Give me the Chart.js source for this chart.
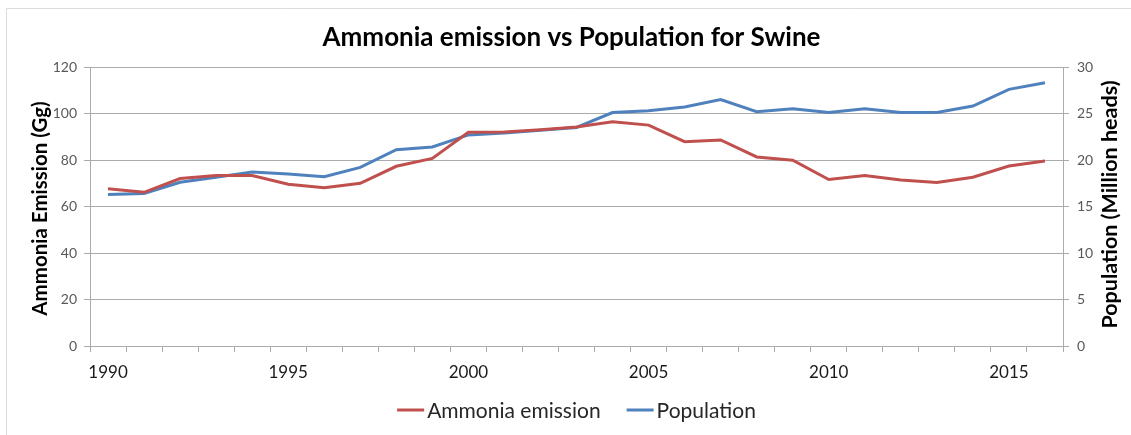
<!DOCTYPE html>
<html>
<head>
<meta charset="utf-8">
<script src="https://cdn.jsdelivr.net/npm/chart.js@4.4.1/dist/chart.umd.min.js"></script>
<style>
  html, body { margin: 0; padding: 0; background: #ffffff; overflow: hidden; }
  #wrap { position: relative; width: 1131px; height: 435px; }
</style>
</head>
<body>
<div id="wrap"><canvas id="chart" width="1131" height="435"></canvas></div>
<script>
// Swine: ammonia emission (Gg) and herd size (million heads), 1990-2016
const years = [1990, 1991, 1992, 1993, 1994, 1995, 1996, 1997, 1998, 1999,
               2000, 2001, 2002, 2003, 2004, 2005, 2006, 2007, 2008, 2009,
               2010, 2011, 2012, 2013, 2014, 2015, 2016];
const ammoniaEmission = [67.6, 66.1, 72.0, 73.3, 73.3, 69.6, 68.1, 70.0, 77.3, 80.7,
                         91.9, 92.0, 93.0, 94.2, 96.4, 95.0, 87.9, 88.6, 81.3, 79.9,
                         71.6, 73.3, 71.4, 70.3, 72.6, 77.4, 79.6];
const population = [16.3, 16.4, 17.6, 18.15, 18.7, 18.5, 18.2, 19.2, 21.1, 21.4,
                    22.7, 22.9, 23.2, 23.5, 25.1, 25.3, 25.7, 26.5, 25.2, 25.5,
                    25.1, 25.5, 25.1, 25.1, 25.8, 27.6, 28.3];
const seriesNames = ['Ammonia emission', 'Population'];
const chartTitle = 'Ammonia emission vs Population for Swine';
const leftAxisTitle = 'Ammonia Emission (Gg)';
const rightAxisTitle = 'Population (Million heads)';
const emissionRange = [0, 120, 20];   // min, max, step
const populationRange = [0, 30, 5];

const RED = '#C0504D';
const BLUE = '#4F81BD';
const GRID = '#ababab';
const FONT = 'Lato, "Open Sans", sans-serif';

// Title, rotated axis titles, legend and the outer frame
const decor = {
  id: 'decor',
  afterDraw(chart) {
    const ctx = chart.ctx;
    const area = chart.chartArea;
    const midY = (area.top + area.bottom) / 2;
    ctx.save();

    // outer frame
    ctx.strokeStyle = '#dcdcdc';
    ctx.lineWidth = 1;
    ctx.beginPath();
    ctx.moveTo(6.5, chart.height);
    ctx.lineTo(6.5, 8.5);
    ctx.lineTo(chart.width, 8.5);
    ctx.stroke();

    // chart title
    ctx.fillStyle = '#000000';
    ctx.font = 'bold 26px ' + FONT;
    ctx.textAlign = 'center';
    ctx.textBaseline = 'middle';
    ctx.fillText(chartTitle, chart.width / 2 + 6, 38);

    // axis titles, both reading bottom to top
    ctx.font = 'bold 20.5px ' + FONT;
    ctx.save();
    ctx.translate(40, midY + 2);
    ctx.rotate(-Math.PI / 2);
    ctx.fillText(leftAxisTitle, 0, 0);
    ctx.restore();
    ctx.font = 'bold 21.5px ' + FONT;
    ctx.save();
    ctx.translate(1110, midY - 2);
    ctx.rotate(-Math.PI / 2);
    ctx.fillText(rightAxisTitle, 0, 0);
    ctx.restore();

    // legend
    ctx.font = '21px ' + FONT;
    ctx.textAlign = 'left';
    const sample = 27, gap = 3, between = 26;
    const items = chart.data.datasets.map(d => ({
      label: d.label, color: d.borderColor, w: ctx.measureText(d.label).width
    }));
    const total = items.reduce((s, it) => s + sample + gap + it.w, 0) + between * (items.length - 1);
    let x = (area.left + area.right) / 2 - total / 2;
    const ly = 410;
    items.forEach(it => {
      ctx.strokeStyle = it.color;
      ctx.lineWidth = 3;
      ctx.beginPath();
      ctx.moveTo(x, ly);
      ctx.lineTo(x + sample, ly);
      ctx.stroke();
      ctx.fillStyle = '#262626';
      ctx.fillText(it.label, x + sample + gap, ly + 1);
      x += sample + gap + it.w + between;
    });
    ctx.restore();
  }
};

function build() {
  new Chart(document.getElementById('chart'), {
    type: 'line',
    data: {
      labels: years,
      datasets: [
        {
          label: seriesNames[0],
          data: ammoniaEmission,
          yAxisID: 'y',
          borderColor: RED,
          backgroundColor: RED,
          borderWidth: 3,
          pointRadius: 0,
          tension: 0
        },
        {
          label: seriesNames[1],
          data: population,
          yAxisID: 'y1',
          borderColor: BLUE,
          backgroundColor: BLUE,
          borderWidth: 3,
          pointRadius: 0,
          tension: 0
        }
      ]
    },
    options: {
      responsive: false,
      animation: false,
      layout: { padding: { top: 67, bottom: 44, left: 0, right: 0 } },
      plugins: {
        legend: { display: false },
        title: { display: false },
        tooltip: { enabled: false }
      },
      scales: {
        x: {
          type: 'category',
          offset: true,
          grid: {
            offset: true,
            drawOnChartArea: false,
            drawTicks: true,
            tickLength: 6,
            color: GRID
          },
          border: { color: GRID, width: 1 },
          ticks: {
            autoSkip: false,
            maxRotation: 0,
            padding: 10,
            color: '#1a1a1a',
            font: { family: FONT, size: 17 },
            callback: (v, i) => (years[i] % 5 === 0 ? String(years[i]) : '')
          },
          afterFit: s => { s.height = 45; }
        },
        y: {
          position: 'left',
          min: emissionRange[0],
          max: emissionRange[1],
          ticks: {
            stepSize: emissionRange[2],
            padding: 7,
            color: '#595959',
            font: { family: FONT, size: 14 }
          },
          grid: { color: GRID, tickLength: 6 },
          border: { color: GRID, width: 1 },
          afterFit: s => { s.width = 90; }
        },
        y1: {
          position: 'right',
          min: populationRange[0],
          max: populationRange[1],
          ticks: {
            stepSize: populationRange[2],
            padding: 8,
            color: '#595959',
            font: { family: FONT, size: 14 }
          },
          grid: { drawOnChartArea: false, color: GRID, tickLength: 6 },
          border: { color: GRID, width: 1 },
          afterFit: s => { s.width = 68; }
        }
      }
    },
    plugins: [decor]
  });
}

if (document.fonts && document.fonts.load) {
  Promise.all([
    document.fonts.load('bold 24px Lato'),
    document.fonts.load('20px Lato')
  ]).then(build, build);
} else {
  build();
}
</script>
</body>
</html>
